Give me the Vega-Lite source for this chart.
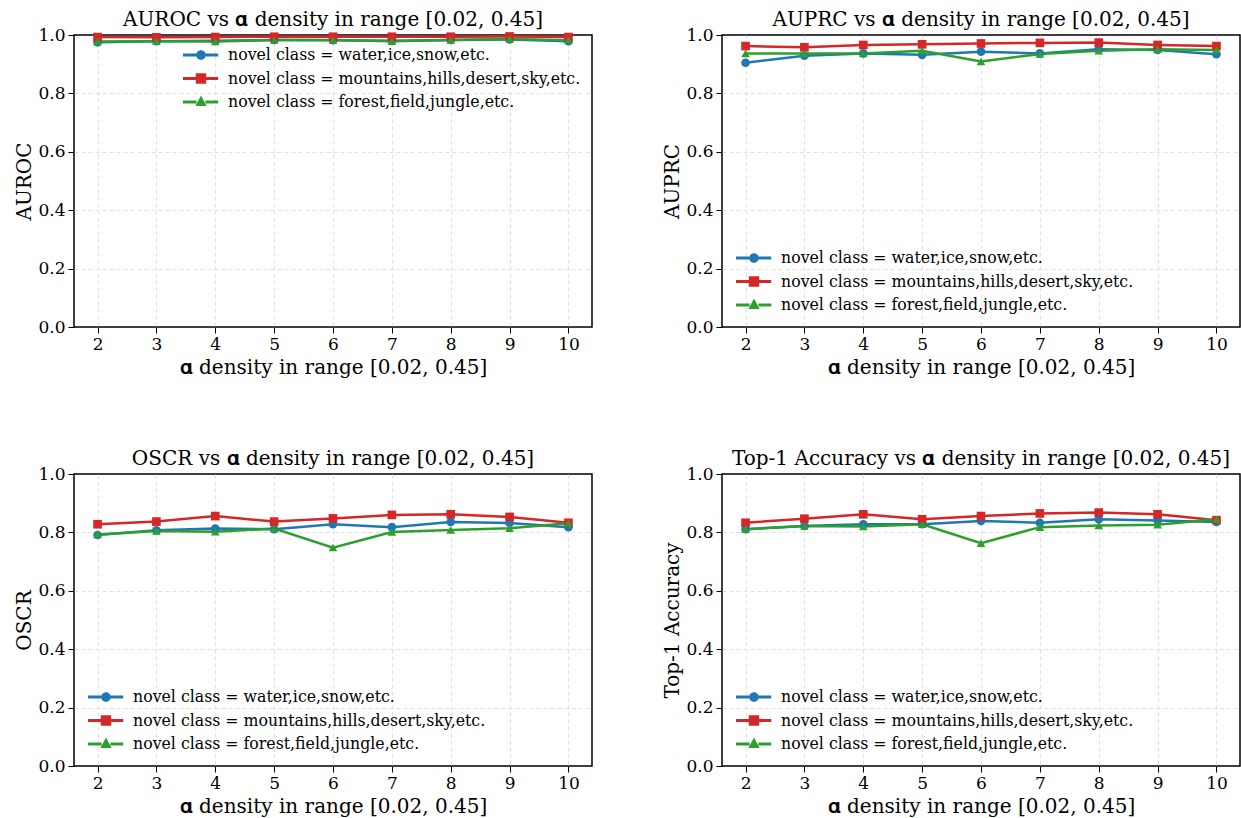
{
  "$schema": "https://vega.github.io/schema/vega-lite/v6.json",
  "padding": {"left": 14, "top": 9, "right": 0, "bottom": 0},
  "background": "white",
  "config": {
    "font": "DejaVu Serif",
    "view": {"stroke": "black", "strokeWidth": 1.5},
    "title": {"font": "DejaVu Serif", "fontSize": 20, "fontWeight": "normal", "color": "black", "offset": -4},
    "axis": {
      "labelFont": "DejaVu Serif", "labelFontSize": 17, "labelColor": "black",
      "titleFont": "DejaVu Serif", "titleFontSize": 20, "titleFontWeight": "normal", "titleColor": "black",
      "domain": false, "tickColor": "black", "tickSize": 6, "tickWidth": 1,
      "grid": true, "gridColor": "#d9d9d9", "gridDash": [4, 3], "gridWidth": 0.8,
      "labelPadding": 3
    },
    "axisY": {"titlePadding": 3},
    "axisX": {"titlePadding": 5},
    "legend": {"labelFont": "DejaVu Serif", "labelFontSize": 15.75, "labelColor": "black", "labelLimit": 0, "padding": 0, "symbolSize": 256, "symbolStrokeWidth": 0, "labelOffset": 29, "rowPadding": 7.5, "symbolOpacity": 1}
  },
  "data": {"values": [
    {"metric": "AUROC", "x": 2, "series": "novel class = water,ice,snow,etc.", "value": 0.975},
    {"metric": "AUROC", "x": 3, "series": "novel class = water,ice,snow,etc.", "value": 0.979},
    {"metric": "AUROC", "x": 4, "series": "novel class = water,ice,snow,etc.", "value": 0.980},
    {"metric": "AUROC", "x": 5, "series": "novel class = water,ice,snow,etc.", "value": 0.983},
    {"metric": "AUROC", "x": 6, "series": "novel class = water,ice,snow,etc.", "value": 0.982},
    {"metric": "AUROC", "x": 7, "series": "novel class = water,ice,snow,etc.", "value": 0.980},
    {"metric": "AUROC", "x": 8, "series": "novel class = water,ice,snow,etc.", "value": 0.983},
    {"metric": "AUROC", "x": 9, "series": "novel class = water,ice,snow,etc.", "value": 0.985},
    {"metric": "AUROC", "x": 10, "series": "novel class = water,ice,snow,etc.", "value": 0.979},
    {"metric": "AUROC", "x": 2, "series": "novel class = mountains,hills,desert,sky,etc.", "value": 0.993},
    {"metric": "AUROC", "x": 3, "series": "novel class = mountains,hills,desert,sky,etc.", "value": 0.992},
    {"metric": "AUROC", "x": 4, "series": "novel class = mountains,hills,desert,sky,etc.", "value": 0.993},
    {"metric": "AUROC", "x": 5, "series": "novel class = mountains,hills,desert,sky,etc.", "value": 0.994},
    {"metric": "AUROC", "x": 6, "series": "novel class = mountains,hills,desert,sky,etc.", "value": 0.994},
    {"metric": "AUROC", "x": 7, "series": "novel class = mountains,hills,desert,sky,etc.", "value": 0.994},
    {"metric": "AUROC", "x": 8, "series": "novel class = mountains,hills,desert,sky,etc.", "value": 0.994},
    {"metric": "AUROC", "x": 9, "series": "novel class = mountains,hills,desert,sky,etc.", "value": 0.995},
    {"metric": "AUROC", "x": 10, "series": "novel class = mountains,hills,desert,sky,etc.", "value": 0.993},
    {"metric": "AUROC", "x": 2, "series": "novel class = forest,field,jungle,etc.", "value": 0.978},
    {"metric": "AUROC", "x": 3, "series": "novel class = forest,field,jungle,etc.", "value": 0.979},
    {"metric": "AUROC", "x": 4, "series": "novel class = forest,field,jungle,etc.", "value": 0.978},
    {"metric": "AUROC", "x": 5, "series": "novel class = forest,field,jungle,etc.", "value": 0.983},
    {"metric": "AUROC", "x": 6, "series": "novel class = forest,field,jungle,etc.", "value": 0.983},
    {"metric": "AUROC", "x": 7, "series": "novel class = forest,field,jungle,etc.", "value": 0.979},
    {"metric": "AUROC", "x": 8, "series": "novel class = forest,field,jungle,etc.", "value": 0.983},
    {"metric": "AUROC", "x": 9, "series": "novel class = forest,field,jungle,etc.", "value": 0.986},
    {"metric": "AUROC", "x": 10, "series": "novel class = forest,field,jungle,etc.", "value": 0.982},

    {"metric": "AUPRC", "x": 2, "series": "novel class = water,ice,snow,etc.", "value": 0.905},
    {"metric": "AUPRC", "x": 3, "series": "novel class = water,ice,snow,etc.", "value": 0.929},
    {"metric": "AUPRC", "x": 4, "series": "novel class = water,ice,snow,etc.", "value": 0.937},
    {"metric": "AUPRC", "x": 5, "series": "novel class = water,ice,snow,etc.", "value": 0.932},
    {"metric": "AUPRC", "x": 6, "series": "novel class = water,ice,snow,etc.", "value": 0.943},
    {"metric": "AUPRC", "x": 7, "series": "novel class = water,ice,snow,etc.", "value": 0.937},
    {"metric": "AUPRC", "x": 8, "series": "novel class = water,ice,snow,etc.", "value": 0.951},
    {"metric": "AUPRC", "x": 9, "series": "novel class = water,ice,snow,etc.", "value": 0.949},
    {"metric": "AUPRC", "x": 10, "series": "novel class = water,ice,snow,etc.", "value": 0.934},
    {"metric": "AUPRC", "x": 2, "series": "novel class = mountains,hills,desert,sky,etc.", "value": 0.962},
    {"metric": "AUPRC", "x": 3, "series": "novel class = mountains,hills,desert,sky,etc.", "value": 0.958},
    {"metric": "AUPRC", "x": 4, "series": "novel class = mountains,hills,desert,sky,etc.", "value": 0.966},
    {"metric": "AUPRC", "x": 5, "series": "novel class = mountains,hills,desert,sky,etc.", "value": 0.968},
    {"metric": "AUPRC", "x": 6, "series": "novel class = mountains,hills,desert,sky,etc.", "value": 0.971},
    {"metric": "AUPRC", "x": 7, "series": "novel class = mountains,hills,desert,sky,etc.", "value": 0.973},
    {"metric": "AUPRC", "x": 8, "series": "novel class = mountains,hills,desert,sky,etc.", "value": 0.974},
    {"metric": "AUPRC", "x": 9, "series": "novel class = mountains,hills,desert,sky,etc.", "value": 0.966},
    {"metric": "AUPRC", "x": 10, "series": "novel class = mountains,hills,desert,sky,etc.", "value": 0.962},
    {"metric": "AUPRC", "x": 2, "series": "novel class = forest,field,jungle,etc.", "value": 0.937},
    {"metric": "AUPRC", "x": 3, "series": "novel class = forest,field,jungle,etc.", "value": 0.937},
    {"metric": "AUPRC", "x": 4, "series": "novel class = forest,field,jungle,etc.", "value": 0.937},
    {"metric": "AUPRC", "x": 5, "series": "novel class = forest,field,jungle,etc.", "value": 0.946},
    {"metric": "AUPRC", "x": 6, "series": "novel class = forest,field,jungle,etc.", "value": 0.909},
    {"metric": "AUPRC", "x": 7, "series": "novel class = forest,field,jungle,etc.", "value": 0.935},
    {"metric": "AUPRC", "x": 8, "series": "novel class = forest,field,jungle,etc.", "value": 0.946},
    {"metric": "AUPRC", "x": 9, "series": "novel class = forest,field,jungle,etc.", "value": 0.951},
    {"metric": "AUPRC", "x": 10, "series": "novel class = forest,field,jungle,etc.", "value": 0.949},

    {"metric": "OSCR", "x": 2, "series": "novel class = water,ice,snow,etc.", "value": 0.791},
    {"metric": "OSCR", "x": 3, "series": "novel class = water,ice,snow,etc.", "value": 0.807},
    {"metric": "OSCR", "x": 4, "series": "novel class = water,ice,snow,etc.", "value": 0.813},
    {"metric": "OSCR", "x": 5, "series": "novel class = water,ice,snow,etc.", "value": 0.811},
    {"metric": "OSCR", "x": 6, "series": "novel class = water,ice,snow,etc.", "value": 0.828},
    {"metric": "OSCR", "x": 7, "series": "novel class = water,ice,snow,etc.", "value": 0.818},
    {"metric": "OSCR", "x": 8, "series": "novel class = water,ice,snow,etc.", "value": 0.836},
    {"metric": "OSCR", "x": 9, "series": "novel class = water,ice,snow,etc.", "value": 0.832},
    {"metric": "OSCR", "x": 10, "series": "novel class = water,ice,snow,etc.", "value": 0.818},
    {"metric": "OSCR", "x": 2, "series": "novel class = mountains,hills,desert,sky,etc.", "value": 0.828},
    {"metric": "OSCR", "x": 3, "series": "novel class = mountains,hills,desert,sky,etc.", "value": 0.837},
    {"metric": "OSCR", "x": 4, "series": "novel class = mountains,hills,desert,sky,etc.", "value": 0.856},
    {"metric": "OSCR", "x": 5, "series": "novel class = mountains,hills,desert,sky,etc.", "value": 0.837},
    {"metric": "OSCR", "x": 6, "series": "novel class = mountains,hills,desert,sky,etc.", "value": 0.848},
    {"metric": "OSCR", "x": 7, "series": "novel class = mountains,hills,desert,sky,etc.", "value": 0.860},
    {"metric": "OSCR", "x": 8, "series": "novel class = mountains,hills,desert,sky,etc.", "value": 0.862},
    {"metric": "OSCR", "x": 9, "series": "novel class = mountains,hills,desert,sky,etc.", "value": 0.853},
    {"metric": "OSCR", "x": 10, "series": "novel class = mountains,hills,desert,sky,etc.", "value": 0.833},
    {"metric": "OSCR", "x": 2, "series": "novel class = forest,field,jungle,etc.", "value": 0.793},
    {"metric": "OSCR", "x": 3, "series": "novel class = forest,field,jungle,etc.", "value": 0.805},
    {"metric": "OSCR", "x": 4, "series": "novel class = forest,field,jungle,etc.", "value": 0.802},
    {"metric": "OSCR", "x": 5, "series": "novel class = forest,field,jungle,etc.", "value": 0.813},
    {"metric": "OSCR", "x": 6, "series": "novel class = forest,field,jungle,etc.", "value": 0.748},
    {"metric": "OSCR", "x": 7, "series": "novel class = forest,field,jungle,etc.", "value": 0.801},
    {"metric": "OSCR", "x": 8, "series": "novel class = forest,field,jungle,etc.", "value": 0.808},
    {"metric": "OSCR", "x": 9, "series": "novel class = forest,field,jungle,etc.", "value": 0.814},
    {"metric": "OSCR", "x": 10, "series": "novel class = forest,field,jungle,etc.", "value": 0.831},

    {"metric": "Top-1 Accuracy", "x": 2, "series": "novel class = water,ice,snow,etc.", "value": 0.811},
    {"metric": "Top-1 Accuracy", "x": 3, "series": "novel class = water,ice,snow,etc.", "value": 0.822},
    {"metric": "Top-1 Accuracy", "x": 4, "series": "novel class = water,ice,snow,etc.", "value": 0.828},
    {"metric": "Top-1 Accuracy", "x": 5, "series": "novel class = water,ice,snow,etc.", "value": 0.828},
    {"metric": "Top-1 Accuracy", "x": 6, "series": "novel class = water,ice,snow,etc.", "value": 0.839},
    {"metric": "Top-1 Accuracy", "x": 7, "series": "novel class = water,ice,snow,etc.", "value": 0.833},
    {"metric": "Top-1 Accuracy", "x": 8, "series": "novel class = water,ice,snow,etc.", "value": 0.845},
    {"metric": "Top-1 Accuracy", "x": 9, "series": "novel class = water,ice,snow,etc.", "value": 0.841},
    {"metric": "Top-1 Accuracy", "x": 10, "series": "novel class = water,ice,snow,etc.", "value": 0.836},
    {"metric": "Top-1 Accuracy", "x": 2, "series": "novel class = mountains,hills,desert,sky,etc.", "value": 0.833},
    {"metric": "Top-1 Accuracy", "x": 3, "series": "novel class = mountains,hills,desert,sky,etc.", "value": 0.847},
    {"metric": "Top-1 Accuracy", "x": 4, "series": "novel class = mountains,hills,desert,sky,etc.", "value": 0.862},
    {"metric": "Top-1 Accuracy", "x": 5, "series": "novel class = mountains,hills,desert,sky,etc.", "value": 0.845},
    {"metric": "Top-1 Accuracy", "x": 6, "series": "novel class = mountains,hills,desert,sky,etc.", "value": 0.856},
    {"metric": "Top-1 Accuracy", "x": 7, "series": "novel class = mountains,hills,desert,sky,etc.", "value": 0.865},
    {"metric": "Top-1 Accuracy", "x": 8, "series": "novel class = mountains,hills,desert,sky,etc.", "value": 0.868},
    {"metric": "Top-1 Accuracy", "x": 9, "series": "novel class = mountains,hills,desert,sky,etc.", "value": 0.862},
    {"metric": "Top-1 Accuracy", "x": 10, "series": "novel class = mountains,hills,desert,sky,etc.", "value": 0.842},
    {"metric": "Top-1 Accuracy", "x": 2, "series": "novel class = forest,field,jungle,etc.", "value": 0.811},
    {"metric": "Top-1 Accuracy", "x": 3, "series": "novel class = forest,field,jungle,etc.", "value": 0.822},
    {"metric": "Top-1 Accuracy", "x": 4, "series": "novel class = forest,field,jungle,etc.", "value": 0.820},
    {"metric": "Top-1 Accuracy", "x": 5, "series": "novel class = forest,field,jungle,etc.", "value": 0.828},
    {"metric": "Top-1 Accuracy", "x": 6, "series": "novel class = forest,field,jungle,etc.", "value": 0.763},
    {"metric": "Top-1 Accuracy", "x": 7, "series": "novel class = forest,field,jungle,etc.", "value": 0.818},
    {"metric": "Top-1 Accuracy", "x": 8, "series": "novel class = forest,field,jungle,etc.", "value": 0.824},
    {"metric": "Top-1 Accuracy", "x": 9, "series": "novel class = forest,field,jungle,etc.", "value": 0.826},
    {"metric": "Top-1 Accuracy", "x": 10, "series": "novel class = forest,field,jungle,etc.", "value": 0.845}
  ]},
  "spacing": 70,
  "vconcat": [
    {"spacing": 69, "hconcat": [
      {
        "width": 518, "height": 292,
        "title": "AUROC vs 𝛂 density in range [0.02, 0.45]",
        "transform": [{"filter": "datum.metric === 'AUROC'"}],
        "encoding": {
          "x": {"field": "x", "type": "quantitative", "scale": {"domain": [1.6, 10.4], "nice": false, "zero": false}, "axis": {"values": [2,3,4,5,6,7,8,9,10], "format": "d", "title": "𝛂 density in range [0.02, 0.45]"}},
          "y": {"field": "value", "type": "quantitative", "scale": {"domain": [0, 1], "nice": false}, "axis": {"values": [0,0.2,0.4,0.6,0.8,1.0], "format": ".1f", "title": "AUROC", "gridOpacity": {"condition": {"test": "datum.value <= 0.001 || datum.value >= 0.999", "value": 0}, "value": 1}}},
          "color": {"field": "series", "type": "nominal",
            "scale": {"domain": ["novel class = water,ice,snow,etc.", "novel class = mountains,hills,desert,sky,etc.", "novel class = forest,field,jungle,etc."], "range": ["#1f77b4", "#d62728", "#2ca02c"]},
            "legend": {"title": null, "orient": "none", "legendX": 109, "legendY": 12}}
        },
        "layer": [
          {"transform": [{"filter": "false"}], "mark": {"type": "point", "filled": true, "opacity": 1},
           "encoding": {"shape": {"field": "series", "type": "nominal", "legend": {"title": null},
             "scale": {"domain": ["novel class = water,ice,snow,etc.", "novel class = mountains,hills,desert,sky,etc.", "novel class = forest,field,jungle,etc."],
               "range": ["M-1,-0.19H0.7V0.19H-1Z M1.8,-0.19H3.4V0.19H1.8Z M1.85,0A0.6,0.6 0 1,1 0.65,0A0.6,0.6 0 1,1 1.85,0Z", "M-1,-0.19H0.7V0.19H-1Z M1.8,-0.19H3.4V0.19H1.8Z M0.6,-0.65H1.9V0.65H0.6Z", "M-1,-0.19H0.7V0.19H-1Z M1.8,-0.19H3.4V0.19H1.8Z M1.25,-0.8L1.95,0.5L0.55,0.5Z"]}}}},
          {"mark": {"type": "line", "strokeWidth": 2.5}},
          {"transform": [{"filter": "datum.series === 'novel class = water,ice,snow,etc.'"}], "mark": {"type": "point", "filled": true, "size": 75, "opacity": 1, "shape": "circle"}},
          {"transform": [{"filter": "datum.series === 'novel class = mountains,hills,desert,sky,etc.'"}], "mark": {"type": "point", "filled": true, "size": 75, "opacity": 1, "shape": "square"}},
          {"transform": [{"filter": "datum.series === 'novel class = forest,field,jungle,etc.'"}], "mark": {"type": "point", "filled": true, "size": 75, "opacity": 1, "shape": "triangle-up"}}
        ]
      },
      {
        "width": 518, "height": 292,
        "title": "AUPRC vs 𝛂 density in range [0.02, 0.45]",
        "transform": [{"filter": "datum.metric === 'AUPRC'"}],
        "encoding": {
          "x": {"field": "x", "type": "quantitative", "scale": {"domain": [1.6, 10.4], "nice": false, "zero": false}, "axis": {"values": [2,3,4,5,6,7,8,9,10], "format": "d", "title": "𝛂 density in range [0.02, 0.45]"}},
          "y": {"field": "value", "type": "quantitative", "scale": {"domain": [0, 1], "nice": false}, "axis": {"values": [0,0.2,0.4,0.6,0.8,1.0], "format": ".1f", "title": "AUPRC", "gridOpacity": {"condition": {"test": "datum.value <= 0.001 || datum.value >= 0.999", "value": 0}, "value": 1}}},
          "color": {"field": "series", "type": "nominal",
            "scale": {"domain": ["novel class = water,ice,snow,etc.", "novel class = mountains,hills,desert,sky,etc.", "novel class = forest,field,jungle,etc."], "range": ["#1f77b4", "#d62728", "#2ca02c"]},
            "legend": {"title": null, "orient": "bottom-left", "offset": 14}}
        },
        "layer": [
          {"transform": [{"filter": "false"}], "mark": {"type": "point", "filled": true, "opacity": 1},
           "encoding": {"shape": {"field": "series", "type": "nominal", "legend": {"title": null},
             "scale": {"domain": ["novel class = water,ice,snow,etc.", "novel class = mountains,hills,desert,sky,etc.", "novel class = forest,field,jungle,etc."],
               "range": ["M-1,-0.19H0.7V0.19H-1Z M1.8,-0.19H3.4V0.19H1.8Z M1.85,0A0.6,0.6 0 1,1 0.65,0A0.6,0.6 0 1,1 1.85,0Z", "M-1,-0.19H0.7V0.19H-1Z M1.8,-0.19H3.4V0.19H1.8Z M0.6,-0.65H1.9V0.65H0.6Z", "M-1,-0.19H0.7V0.19H-1Z M1.8,-0.19H3.4V0.19H1.8Z M1.25,-0.8L1.95,0.5L0.55,0.5Z"]}}}},
          {"mark": {"type": "line", "strokeWidth": 2.5}},
          {"transform": [{"filter": "datum.series === 'novel class = water,ice,snow,etc.'"}], "mark": {"type": "point", "filled": true, "size": 75, "opacity": 1, "shape": "circle"}},
          {"transform": [{"filter": "datum.series === 'novel class = mountains,hills,desert,sky,etc.'"}], "mark": {"type": "point", "filled": true, "size": 75, "opacity": 1, "shape": "square"}},
          {"transform": [{"filter": "datum.series === 'novel class = forest,field,jungle,etc.'"}], "mark": {"type": "point", "filled": true, "size": 75, "opacity": 1, "shape": "triangle-up"}}
        ]
      }
    ], "resolve": {"scale": {"color": "independent", "shape": "independent"}, "legend": {"color": "independent", "shape": "independent"}}},
    {"spacing": 69, "hconcat": [
      {
        "width": 518, "height": 292,
        "title": "OSCR vs 𝛂 density in range [0.02, 0.45]",
        "transform": [{"filter": "datum.metric === 'OSCR'"}],
        "encoding": {
          "x": {"field": "x", "type": "quantitative", "scale": {"domain": [1.6, 10.4], "nice": false, "zero": false}, "axis": {"values": [2,3,4,5,6,7,8,9,10], "format": "d", "title": "𝛂 density in range [0.02, 0.45]"}},
          "y": {"field": "value", "type": "quantitative", "scale": {"domain": [0, 1], "nice": false}, "axis": {"values": [0,0.2,0.4,0.6,0.8,1.0], "format": ".1f", "title": "OSCR", "gridOpacity": {"condition": {"test": "datum.value <= 0.001 || datum.value >= 0.999", "value": 0}, "value": 1}}},
          "color": {"field": "series", "type": "nominal",
            "scale": {"domain": ["novel class = water,ice,snow,etc.", "novel class = mountains,hills,desert,sky,etc.", "novel class = forest,field,jungle,etc."], "range": ["#1f77b4", "#d62728", "#2ca02c"]},
            "legend": {"title": null, "orient": "bottom-left", "offset": 14}}
        },
        "layer": [
          {"transform": [{"filter": "false"}], "mark": {"type": "point", "filled": true, "opacity": 1},
           "encoding": {"shape": {"field": "series", "type": "nominal", "legend": {"title": null},
             "scale": {"domain": ["novel class = water,ice,snow,etc.", "novel class = mountains,hills,desert,sky,etc.", "novel class = forest,field,jungle,etc."],
               "range": ["M-1,-0.19H0.7V0.19H-1Z M1.8,-0.19H3.4V0.19H1.8Z M1.85,0A0.6,0.6 0 1,1 0.65,0A0.6,0.6 0 1,1 1.85,0Z", "M-1,-0.19H0.7V0.19H-1Z M1.8,-0.19H3.4V0.19H1.8Z M0.6,-0.65H1.9V0.65H0.6Z", "M-1,-0.19H0.7V0.19H-1Z M1.8,-0.19H3.4V0.19H1.8Z M1.25,-0.8L1.95,0.5L0.55,0.5Z"]}}}},
          {"mark": {"type": "line", "strokeWidth": 2.5}},
          {"transform": [{"filter": "datum.series === 'novel class = water,ice,snow,etc.'"}], "mark": {"type": "point", "filled": true, "size": 75, "opacity": 1, "shape": "circle"}},
          {"transform": [{"filter": "datum.series === 'novel class = mountains,hills,desert,sky,etc.'"}], "mark": {"type": "point", "filled": true, "size": 75, "opacity": 1, "shape": "square"}},
          {"transform": [{"filter": "datum.series === 'novel class = forest,field,jungle,etc.'"}], "mark": {"type": "point", "filled": true, "size": 75, "opacity": 1, "shape": "triangle-up"}}
        ]
      },
      {
        "width": 518, "height": 292,
        "title": "Top-1 Accuracy vs 𝛂 density in range [0.02, 0.45]",
        "transform": [{"filter": "datum.metric === 'Top-1 Accuracy'"}],
        "encoding": {
          "x": {"field": "x", "type": "quantitative", "scale": {"domain": [1.6, 10.4], "nice": false, "zero": false}, "axis": {"values": [2,3,4,5,6,7,8,9,10], "format": "d", "title": "𝛂 density in range [0.02, 0.45]"}},
          "y": {"field": "value", "type": "quantitative", "scale": {"domain": [0, 1], "nice": false}, "axis": {"values": [0,0.2,0.4,0.6,0.8,1.0], "format": ".1f", "title": "Top-1 Accuracy", "gridOpacity": {"condition": {"test": "datum.value <= 0.001 || datum.value >= 0.999", "value": 0}, "value": 1}}},
          "color": {"field": "series", "type": "nominal",
            "scale": {"domain": ["novel class = water,ice,snow,etc.", "novel class = mountains,hills,desert,sky,etc.", "novel class = forest,field,jungle,etc."], "range": ["#1f77b4", "#d62728", "#2ca02c"]},
            "legend": {"title": null, "orient": "bottom-left", "offset": 14}}
        },
        "layer": [
          {"transform": [{"filter": "false"}], "mark": {"type": "point", "filled": true, "opacity": 1},
           "encoding": {"shape": {"field": "series", "type": "nominal", "legend": {"title": null},
             "scale": {"domain": ["novel class = water,ice,snow,etc.", "novel class = mountains,hills,desert,sky,etc.", "novel class = forest,field,jungle,etc."],
               "range": ["M-1,-0.19H0.7V0.19H-1Z M1.8,-0.19H3.4V0.19H1.8Z M1.85,0A0.6,0.6 0 1,1 0.65,0A0.6,0.6 0 1,1 1.85,0Z", "M-1,-0.19H0.7V0.19H-1Z M1.8,-0.19H3.4V0.19H1.8Z M0.6,-0.65H1.9V0.65H0.6Z", "M-1,-0.19H0.7V0.19H-1Z M1.8,-0.19H3.4V0.19H1.8Z M1.25,-0.8L1.95,0.5L0.55,0.5Z"]}}}},
          {"mark": {"type": "line", "strokeWidth": 2.5}},
          {"transform": [{"filter": "datum.series === 'novel class = water,ice,snow,etc.'"}], "mark": {"type": "point", "filled": true, "size": 75, "opacity": 1, "shape": "circle"}},
          {"transform": [{"filter": "datum.series === 'novel class = mountains,hills,desert,sky,etc.'"}], "mark": {"type": "point", "filled": true, "size": 75, "opacity": 1, "shape": "square"}},
          {"transform": [{"filter": "datum.series === 'novel class = forest,field,jungle,etc.'"}], "mark": {"type": "point", "filled": true, "size": 75, "opacity": 1, "shape": "triangle-up"}}
        ]
      }
    ], "resolve": {"scale": {"color": "independent", "shape": "independent"}, "legend": {"color": "independent", "shape": "independent"}}}
  ],
  "resolve": {"scale": {"color": "independent", "shape": "independent"}, "legend": {"color": "independent", "shape": "independent"}}
}
